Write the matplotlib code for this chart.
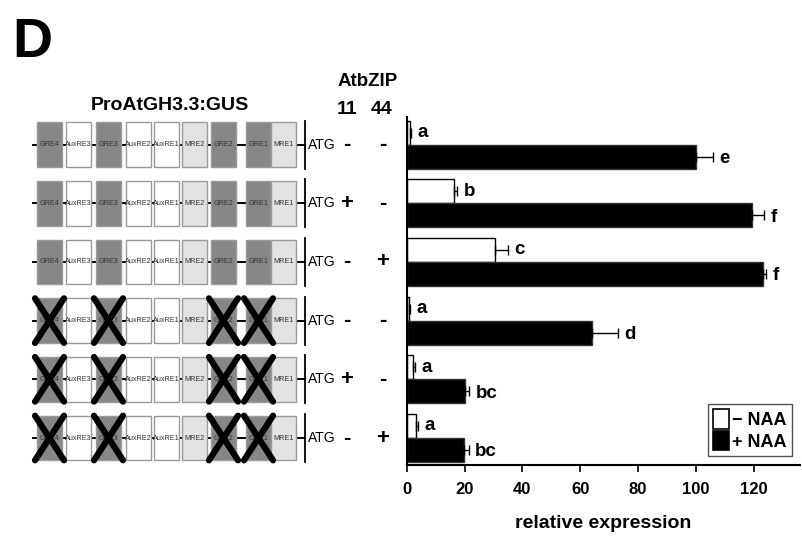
import matplotlib
matplotlib.use("Agg")
import matplotlib.pyplot as plt
from matplotlib.patches import Rectangle, Patch

plt.rcParams['font.family'] = ['Liberation Sans', 'DejaVu Sans']

# ---------------- data ----------------
atbzip11 = ['-', '+', '-', '-', '+', '-']
atbzip44 = ['-', '-', '+', '-', '-', '+']
mutated = [False, False, False, True, True, True]

minus_naa = [1.0, 16.5, 30.5, 0.8, 2.1, 3.2]
minus_err = [0.5, 1.0, 4.5, 0.3, 0.6, 0.8]
plus_naa = [100.0, 119.5, 123.2, 64.0, 20.2, 19.9]
plus_err = [6.0, 4.0, 1.2, 9.0, 1.5, 1.5]
minus_letters = ['a', 'b', 'c', 'a', 'a', 'a']
plus_letters = ['e', 'f', 'f', 'd', 'bc', 'bc']

element_labels = ['GRE4', 'AuxRE3', 'GRE3', 'AuxRE2', 'AuxRE1', 'MRE2', 'GRE2', 'GRE1', 'MRE1']
xticks = [0, 20, 40, 60, 80, 100, 120]

# ---------------- layout ----------------
W, H = 802, 540
fig = plt.figure(figsize=(W / 100, H / 100), dpi=100)

ax_left_px, ax_right_px = 406.7, 800
ax_top_px, ax_bot_px = 117, 465
bottom = 1 - ax_bot_px / H
height = (ax_bot_px - ax_top_px) / H
ylim = (5.46, -0.47)

ax = fig.add_axes([ax_left_px / W, bottom, (ax_right_px - ax_left_px) / W, height])
n = len(plus_naa)
rows = list(range(n))
bh = 0.41
off = 0.205
ywhite = [r - off for r in rows]
yblack = [r + off for r in rows]

ax.barh(ywhite, minus_naa, height=bh, color='white', edgecolor='black', linewidth=1.0, zorder=2)
ax.barh(yblack, plus_naa, height=bh, color='black', edgecolor='#333333', linewidth=1.0, zorder=2)
ax.errorbar(minus_naa, ywhite, xerr=[[0] * n, minus_err], fmt='none', ecolor='black',
            elinewidth=1.0, capsize=3.5, capthick=1.0, zorder=3)
ax.errorbar(plus_naa, yblack, xerr=[[0] * n, plus_err], fmt='none', ecolor='black',
            elinewidth=1.0, capsize=3.5, capthick=1.0, zorder=3)

for v, e, y, t in zip(minus_naa, minus_err, ywhite, minus_letters):
    ax.text(v + e + 2.3, y, t, ha='left', va='center', fontsize=13.5, fontweight='bold')
for v, e, y, t in zip(plus_naa, plus_err, yblack, plus_letters):
    ax.text(v + e + 2.3, y + 0.03, t, ha='left', va='center', fontsize=13.5, fontweight='bold')

ax.set_xlim(0, (ax_right_px - ax_left_px) / 2.89)
ax.set_ylim(*ylim)
ax.set_yticks([])
ax.set_xticks(xticks)
ax.set_xticklabels([str(t) for t in xticks], fontsize=12, fontweight='bold')
ax.tick_params(axis='x', direction='out', length=5, width=1.2, pad=7)
for s in ['top', 'right']:
    ax.spines[s].set_visible(False)
ax.spines['left'].set_linewidth(1.5)
ax.spines['bottom'].set_linewidth(1.5)
ax.set_xlabel('relative expression', fontsize=14, fontweight='bold', labelpad=13)

handles = [Patch(facecolor='white', edgecolor='black', linewidth=1.2),
           Patch(facecolor='black', edgecolor='black', linewidth=1.2)]
leg = ax.legend(handles, ['\u2212 NAA', '+ NAA'], loc='lower right',
                bbox_to_anchor=(0.98, 0.025), borderaxespad=0, fancybox=False, framealpha=1,
                edgecolor='#555555', handlelength=0.85, handleheight=1.25,
                handletextpad=0.2, borderpad=0.3, labelspacing=0.12,
                prop={'weight': 'bold', 'size': 13})
leg.get_frame().set_linewidth(1.0)

# ---------------- schematic ----------------
axs = fig.add_axes([0, bottom, ax_left_px / W, height])
axs.set_xlim(0, ax_left_px)
axs.set_ylim(*ylim)
axs.axis('off')

box_w = 25
gaps = [4, 5, 5, 3, 3, 4, 10, 0]
start = 37
lefts = [start]
for g in gaps:
    lefts.append(lefts[-1] + box_w + g)
half_h = 0.38
fills = {'GRE': '#878787', 'Aux': 'white', 'MRE': '#e2e2e2'}

for r in rows:
    axs.plot([33, 305], [r, r], color='black', lw=1.4, zorder=1)
    axs.plot([305, 305], [r - half_h - 0.03, r + half_h + 0.03], color='black', lw=1.3, zorder=1)
    axs.text(307.5, r, 'ATG', ha='left', va='center', fontsize=10)
    axs.text(347, r, atbzip11[r], ha='center', va='center', fontsize=16, fontweight='bold')
    axs.text(383, r, atbzip44[r], ha='center', va='center', fontsize=16, fontweight='bold')
    for lab, x0 in zip(element_labels, lefts):
        kind = lab[:3]
        axs.add_patch(Rectangle((x0, r - half_h), box_w, 2 * half_h, facecolor=fills[kind],
                                edgecolor='#9a9a9a', lw=1.0, zorder=2))
        axs.text(x0 + box_w / 2, r, lab, ha='center', va='center', fontsize=5.2,
                 color='#333333', zorder=3)
        if mutated[r] and kind == 'GRE':
            axs.plot([x0 - 2, x0 + box_w + 2], [r - half_h, r + half_h], color='black', lw=4.5, zorder=4,
                     solid_capstyle='round')
            axs.plot([x0 - 2, x0 + box_w + 2], [r + half_h, r - half_h], color='black', lw=4.5, zorder=4,
                     solid_capstyle='round')

# ---------------- header texts ----------------
fig.text(12 / W, 1 - 57 / H, 'D', fontsize=40, fontweight='bold', ha='left', va='baseline')
fig.text(170 / W, 1 - 105 / H, 'ProAtGH3.3:GUS', fontsize=14, fontweight='bold', ha='center', va='center')
fig.text(368 / W, 1 - 82 / H, 'AtbZIP', fontsize=13.5, fontweight='bold', ha='center', va='center')
fig.text(347 / W, 1 - 110 / H, '11', fontsize=14, fontweight='bold', ha='center', va='center')
fig.text(382 / W, 1 - 110 / H, '44', fontsize=14, fontweight='bold', ha='center', va='center')

fig.savefig('out.png', dpi=100)
